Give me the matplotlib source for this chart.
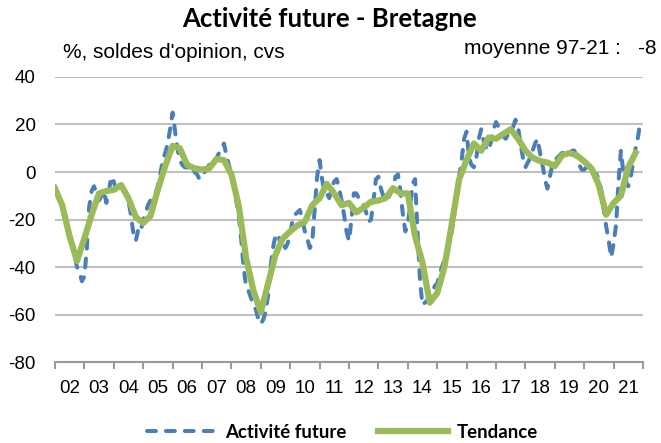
import matplotlib
matplotlib.use("Agg")
import matplotlib.pyplot as plt
import pandas as pd

plt.rcParams["axes.unicode_minus"] = False

# Soldes d'opinion mensuels (cvs), janvier 2002 -> décembre 2021
activite = [
    -6, -9, -12, -14, -18, -22, -27, -31, -35, -40, -42, -46,      # 2002
    -44, -32, -15, -8, -6, -9, -12, -10, -8, -13, -8, -2,          # 2003
    -4, -8, -7, -6, -8, -9, -12, -18, -26, -29, -24, -25,          # 2004
    -20, -17, -14, -12, -10, -9, -6, -1, 5, 8, 12, 18,             # 2005
    25, 17, 10, 5, 3, 2, 2, 1, 2, 0, -1, -3,                       # 2006
    -2, 0, 1, 3, 5, 4, 6, 8, 10, 12, 7, 3,                         # 2007
    -1, -5, -12, -18, -28, -40, -48, -50, -53, -56, -58, -62,      # 2008
    -64, -62, -59, -52, -40, -32, -27, -26, -30, -28, -32, -30,    # 2009
    -26, -20, -18, -17, -16, -20, -25, -28, -32, -30, -16, -2,     # 2010
    5, -3, -8, -9, -11, -7, -4, -3, -7, -12, -18, -25,             # 2011
    -29, -20, -9, -9, -11, -13, -14, -17, -21, -20, -12, -3,       # 2012
    -2, -7, -10, -12, -11, -9, -7, -2, -1, -8, -18, -25,           # 2013
    -22, -14, -5, -3, -25, -45, -56, -55, -54, -52, -51, -48,      # 2014
    -47, -43, -40, -37, -34, -30, -25, -18, -9, -2, 5, 14,         # 2015
    17, 6, 3, 2, 6, 14, 18, 13, 10, 9, 13, 18,                     # 2016
    21, 19, 17, 15, 14, 16, 17, 19, 22, 19, 12, 6,                 # 2017
    2, 4, 6, 9, 12, 14, 8, 3, -3, -7, -2, 3,                       # 2018
    5, 6, 7, 8, 8, 8, 9, 9, 9, 6, 3, 1,                            # 2019
    1, 2, 3, 2, 0, -1, -3, -8, -16, -23, -29, -36,                 # 2020
    -30, -22, -5, 9, 0, -4, -6, -2, 4, 10, 15, 22,                 # 2021
]

# Tendance trimestrielle
tendance = [
    -7, -14, -27, -37.5,
    -28, -18, -9, -8,
    -7.5, -5.5, -11, -19,
    -21.5, -18.5, -7.5, 2.5,
    11, 10, 3, 1.5,
    1, 1.5, 5.5, 5,
    -1, -14, -36, -50,
    -59, -47, -35, -28,
    -25, -22.5, -21, -14,
    -11, -5, -9, -14,
    -13, -17, -15, -12.5,
    -12, -11, -6.8, -9,
    -9, -27, -38, -55,
    -51, -40, -22, -3,
    5, 12, 9, 14.5,
    14, 16, 18, 14,
    9, 6, 4.6, 4,
    2.5, 7, 8, 7,
    4.5, 1.5, -5.5, -18,
    -13, -10, 2, 8,
]

annees = list(range(2002, 2022))
labels_annees = [f"{a % 100:02d}" for a in annees]

mois = pd.date_range("2002-01-01", periods=len(activite), freq="MS")
trimestres = pd.date_range("2002-01-01", periods=len(tendance), freq="QS")

bleu = "#4A7EBB"
vert = "#9BBB59"
gris = "#BFBFBF"

fig = plt.figure(figsize=(6.61, 4.43), dpi=100)
ax = fig.add_axes([0.0832, 0.1828, 0.8896, 0.6434])

ax.plot(mois, activite, color=bleu, linewidth=2.9, dashes=(2.2, 2.5),
        dash_capstyle="round", label="Activité future", zorder=3)
ax.plot(trimestres, tendance, color=vert, linewidth=4.5,
        solid_joinstyle="round", label="Tendance", zorder=4)

ax.set_ylim(-80, 40)
ax.set_yticks(range(-80, 41, 20))
ax.set_xlim(pd.Timestamp("2002-01-01"), pd.Timestamp("2022-01-01"))

ax.grid(axis="y", color=gris, linewidth=1.5)
ax.set_axisbelow(True)
for s in ["left", "right", "top"]:
    ax.spines[s].set_visible(False)
ax.spines["bottom"].set_color("#9A9A9A")
ax.spines["bottom"].set_linewidth(1.5)

ax.set_xticks([pd.Timestamp(f"{a}-01-01") for a in range(2002, 2023)])
ax.set_xticklabels([])
ax.tick_params(axis="x", which="major", length=5, width=1.5, color="#9A9A9A")
ax.set_xticks([pd.Timestamp(f"{a}-07-01") for a in annees], minor=True)
ax.set_xticklabels(labels_annees, minor=True, fontfamily="Liberation Sans", fontsize=13.5)
ax.tick_params(axis="x", which="minor", length=0, pad=13)
ax.tick_params(axis="y", length=0, pad=14)
for t in ax.get_yticklabels():
    t.set_fontfamily("Liberation Sans")
    t.set_fontsize(13.5)

fig.text(0.499, 0.957, "Activité future - Bretagne", ha="center", va="center",
         fontsize=18.5, fontweight="bold", fontfamily="Lato")
fig.text(0.095, 0.882, "%, soldes d'opinion, cvs", ha="left", va="center",
         fontsize=15, fontfamily="Liberation Sans")
fig.text(0.994, 0.891, "moyenne 97-21 :   -8", ha="right", va="center",
         fontsize=15, fontfamily="Liberation Sans")

fig.legend(loc="center left", bbox_to_anchor=(147 / 661, 0.024), ncol=2, frameon=False,
           borderpad=0, borderaxespad=0, handlelength=3.75, handletextpad=0.45,
           columnspacing=1.7, prop={"family": "Lato", "weight": "bold", "size": 13.4})

plt.savefig("out.png", dpi=100)
